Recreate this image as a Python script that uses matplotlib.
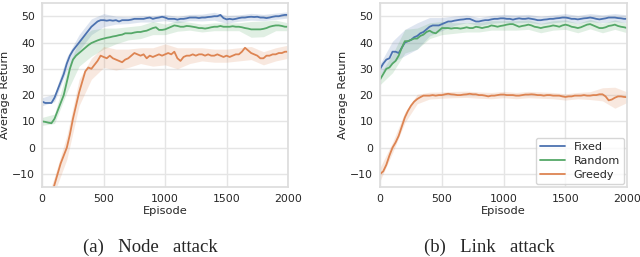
import numpy as np
import matplotlib
matplotlib.use("Agg")
import matplotlib.pyplot as plt
import seaborn as sns

sns.set_theme(style="whitegrid")
plt.rcParams['font.family'] = ['DejaVu Sans']

# episodes for the mean curves (every 25) and the shaded bands (every 100)
episodes = np.arange(0, 2001, 25)
band_episodes = np.arange(0, 2001, 100)

# ---- (a) Node attack ----
node_fixed = [17.5, 17, 17, 17, 19, 22, 25, 28, 32, 35, 37, 38.5, 40, 41.5, 43, 44.5, 46, 47, 48, 48.5,
              48.5, 48.3, 48.5, 48.3, 48.5, 48, 48.5, 48.5, 48.5, 48.7, 49, 49, 49, 49, 49.3, 49.5, 49, 49.3, 49.5, 49.8,
              49.5, 49, 49, 49, 48.7, 49, 49, 49.2, 49.5, 49.5, 49.5, 49.3, 49.5, 49.5, 49.7, 49.8, 50, 50, 50.5, 49.3,
              48.8, 49, 48.8, 49, 49.3, 49.5, 49.5, 49.7, 49.8, 49.7, 49.8, 49.5, 49.5, 49.3, 49.5, 49.8, 50, 50, 50.3, 50.5,
              50.5]
node_random = [10, 9.8, 9.5, 9.3, 11, 14, 17, 20, 25, 30, 33.5, 35, 36, 37, 38, 39, 39.8, 40.3, 40.8, 41.2,
               41.5, 41.8, 42, 42.3, 42.5, 42.8, 43, 43.5, 43.5, 43.5, 43.8, 44, 44, 44.3, 44.5, 45, 45.5, 45.8, 44.8, 44.8,
               45, 45.5, 46, 46.5, 46.3, 46, 46, 46.3, 46.2, 46, 45.8, 45.5, 45.5, 45.3, 45.5, 45.8, 46, 46, 46.3, 46,
               46, 46, 46.2, 46, 46, 45.8, 45.5, 45.3, 45, 45, 45, 45, 45.2, 45.5, 46, 46.3, 46.5, 46.5, 46.3, 46,
               46]
node_greedy = [-28, -25, -22, -18, -14, -10, -6, -3, 0, 5, 11, 16, 21, 25, 29, 30.5, 30, 31.5, 33, 35,
               34.5, 34, 35, 34, 33.5, 33, 32.5, 33.5, 34, 35, 36, 35.5, 35, 35.5, 34, 35, 34.5, 35, 35.5, 35,
               35.5, 36, 35.5, 36.5, 34, 33, 34.5, 35, 35, 35.5, 35, 35.5, 35.5, 35, 35.5, 35, 35, 35.5, 35, 34.5,
               35, 34.5, 35, 35.5, 35.5, 36.5, 38, 37, 36, 35.5, 35, 34, 34, 35, 35, 35.5, 35.5, 36, 36, 36.5,
               36.5]
node_fixed_band = [1.5, 1.5, 2.5, 3, 3, 2.5, 1.5, 1.3, 1.2, 1.2, 1.2, 1.2, 1.2, 1.3, 1.5, 1.5, 1.2, 1.3, 1.2, 1.2, 1.2]
node_random_band = [1.5, 1.8, 4, 5, 5, 4, 3, 2.5, 2.5, 2.5, 2, 2, 1.5, 1.5, 1.5, 1.5, 1.5, 3, 3, 2, 1.5]
node_greedy_band = [3, 3, 4.5, 5, 4, 4, 4, 3.5, 3, 3.5, 4, 4, 3, 2.5, 2.5, 2.5, 2.5, 2.5, 2.5, 2.5, 2.5]

# ---- (b) Link attack ----
link_fixed = [30, 32, 33.5, 34, 36.5, 36.5, 36, 38, 40, 40.5, 41, 42, 42.5, 43.5, 44, 45, 46, 46.5, 46.5, 46.5,
              47, 47.5, 48, 48, 48.3, 48.5, 48.7, 48.8, 49, 49, 48.5, 48, 48, 48.3, 48.5, 48.5, 48.8, 49, 49, 49.2,
              49.2, 49, 49, 48.7, 49, 49.2, 49, 49, 49.2, 49, 48.8, 48.5, 48.5, 48.7, 48.8, 49, 49, 49.2, 49.3, 49.5,
              49.5, 49.3, 49, 49, 48.8, 49, 49.2, 49.3, 49.5, 49.3, 49, 48.8, 49, 49.2, 49.5, 49.5, 49.5, 49.3, 49.2, 49,
              49]
link_random = [26, 28, 30, 30.5, 32, 33, 35, 38, 40.5, 40.5, 41, 41.5, 41.5, 42.5, 43, 44, 44.5, 43.8, 43.5, 44.5,
               45.5, 45.5, 45.5, 45.3, 45.5, 45.5, 45.3, 45.5, 45.8, 45.5, 45.5, 46, 45.8, 45.5, 45.8, 46, 46.5, 46.3, 46, 46.3,
               46.5, 46.8, 47, 47, 46.5, 46, 46.3, 46.5, 46.8, 46.5, 46, 45.8, 45.5, 45.8, 46, 46.2, 46.5, 46.3, 46, 46.5,
               46.8, 46.5, 46, 45.8, 45.5, 45.8, 46.3, 46.8, 47, 46.5, 46, 45.5, 45.5, 45.8, 46.3, 46.5, 46.8, 46.3, 46, 45.8,
               45.5]
link_greedy = [-10, -9, -6.5, -3, 0, 2, 4.5, 8, 11.5, 14, 16, 17.5, 18.5, 19.2, 19.8, 19.8, 19.8, 20, 19.8, 20,
               20, 20.3, 20.5, 20.3, 20.2, 20, 20, 20.2, 20.3, 20.5, 20.3, 20.3, 20, 20, 19.8, 19.5, 19.8, 19.8, 20, 20.2,
               20.2, 20, 20, 20, 19.8, 19.8, 20, 20.2, 20.2, 20.3, 20.2, 20, 20, 19.8, 20, 20, 19.8, 19.8, 19.8, 19.5,
               19.3, 19.5, 19.5, 19.8, 19.8, 19.8, 20, 19.8, 19.8, 20, 20, 20.3, 20.3, 19.5, 18, 18.3, 19, 19.5, 19.5, 19.3,
               19.2]
link_fixed_band = [2, 4, 5, 5, 3.5, 2.5, 1.8, 1.5, 1.5, 1.5, 1.5, 1.5, 1.5, 1.5, 1.5, 1.5, 1.5, 1.5, 1.5, 1.5, 1.5]
link_random_band = [2, 3.5, 4.5, 4, 3, 2.5, 2, 1.8, 1.8, 1.8, 1.8, 1.8, 1.8, 1.8, 1.8, 1.8, 1.8, 1.8, 1.8, 1.8, 1.8]
link_greedy_band = [2.5, 2, 2, 1.8, 1.3, 1.2, 1.2, 1.2, 1.2, 1.2, 1.2, 1.2, 1.2, 1.2, 1.2, 1.2, 1.2, 1.5, 2.5, 4, 2]

labels = ["Fixed", "Random", "Greedy"]
colors = ["#4c72b0", "#55a868", "#dd8452"]

fig = plt.figure(figsize=(6.4, 2.57), dpi=100)
ax1 = fig.add_axes([0.066, 0.272, 0.384, 0.716])
ax2 = fig.add_axes([0.594, 0.272, 0.386, 0.716])


def draw(ax, means, bands):
    for mean, band, label, color in zip(means, bands, labels, colors):
        mean = np.array(mean)
        center = np.interp(band_episodes, episodes, mean)
        band = np.array(band)
        ax.fill_between(band_episodes, center - band, center + band, color=color, alpha=0.18, lw=0)
        ax.plot(episodes, mean, color=color, lw=1.3, label=label)
    ax.set_xlim(0, 2000)
    ax.set_ylim(-15, 55)
    ax.set_xticks([0, 500, 1000, 1500, 2000])
    ax.set_yticks([-10, 0, 10, 20, 30, 40, 50])
    ax.tick_params(labelsize=7.8, length=0, pad=5)
    ax.set_xlabel("Episode", fontsize=8.2)
    ax.set_ylabel("Average Return", fontsize=8.2)
    ax.xaxis.set_label_coords(0.5, -0.13)
    ax.xaxis.label.set_va("center")
    ax.yaxis.set_label_coords(-0.15, 0.5)
    ax.yaxis.label.set_va("center")
    ax.grid(color="#e5e5e5", lw=1)
    for s in ax.spines.values():
        s.set_color("#dddddd")


draw(ax1, [node_fixed, node_random, node_greedy], [node_fixed_band, node_random_band, node_greedy_band])
draw(ax2, [link_fixed, link_random, link_greedy], [link_fixed_band, link_random_band, link_greedy_band])

ax2.legend(loc="lower right", fontsize=8, borderaxespad=0.25, handlelength=2.2, labelspacing=0.35)

fig.text(150 / 640, 1 - 247 / 257, "(a)   Node   attack", ha="center", va="center",
         fontsize=13.5, family="Liberation Serif")
fig.text(489 / 640, 1 - 247 / 257, "(b)   Link   attack", ha="center", va="center",
         fontsize=13.5, family="Liberation Serif")

fig.savefig("out.png", dpi=100)
